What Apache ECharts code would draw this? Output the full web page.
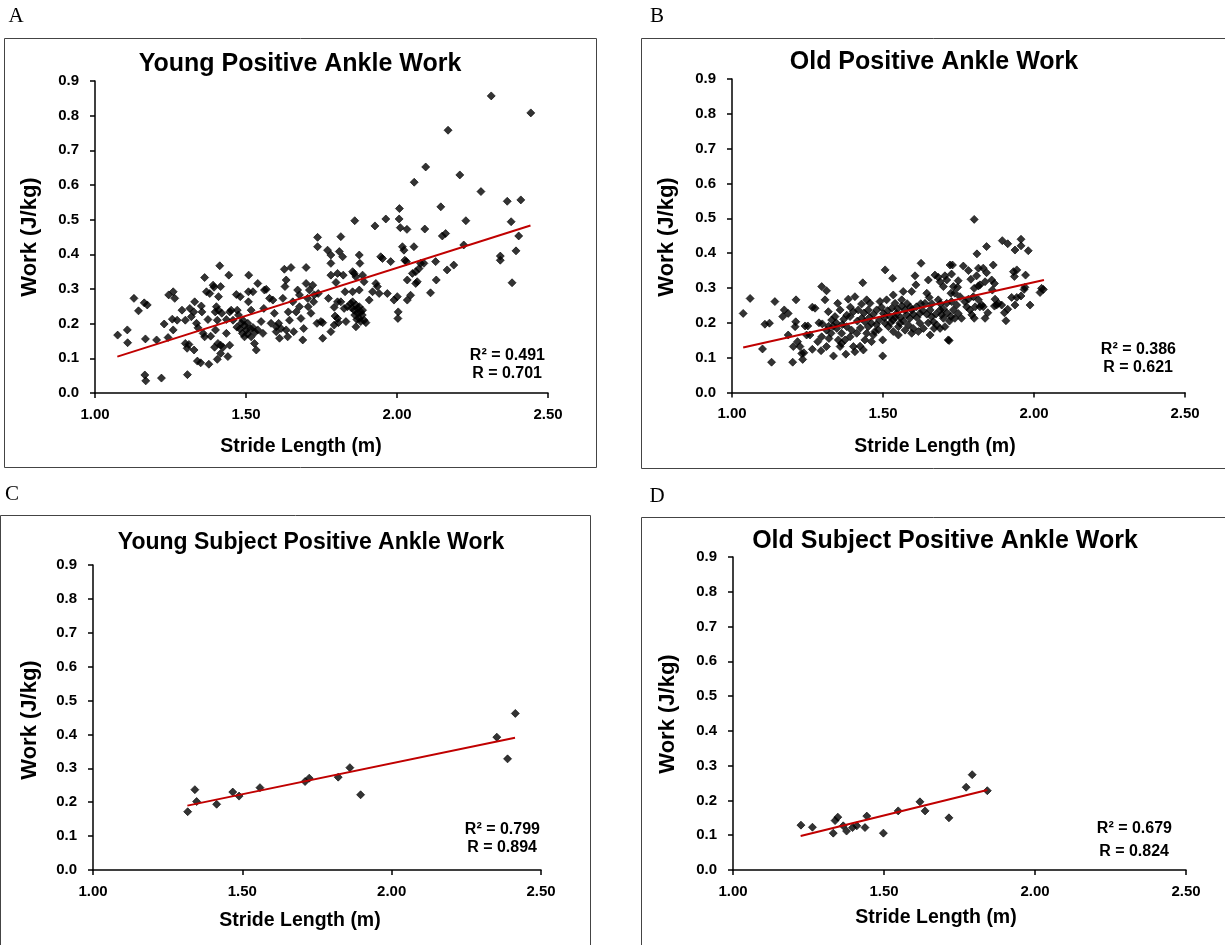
<!DOCTYPE html>
<html>
<head>
<meta charset="utf-8">
<script src="https://cdn.jsdelivr.net/npm/echarts@6/dist/echarts.min.js"></script>
<style>
  html, body { margin: 0; padding: 0; background: #fff; }
  #chart { width: 1225px; height: 945px; }
</style>
</head>
<body>
<div id="chart"></div>
<script>
// Stride length (m) vs positive ankle work (J/kg)
const youngAll = [
  [1.075,0.167],[1.107,0.182],[1.108,0.145],[1.129,0.273],[1.144,0.237],[1.163,0.260],[1.173,0.254],[1.167,0.156],[1.165,0.052],[1.168,0.035],
  [1.204,0.153],[1.220,0.043],[1.229,0.199],[1.242,0.160],[1.244,0.283],[1.259,0.292],[1.264,0.273],[1.256,0.213],[1.259,0.182],[1.272,0.210],
  [1.288,0.239],[1.299,0.210],[1.306,0.053],[1.299,0.143],[1.305,0.129],[1.311,0.140],[1.314,0.244],[1.319,0.220],[1.327,0.234],[1.330,0.263],
  [1.328,0.124],[1.336,0.201],[1.341,0.188],[1.352,0.251],[1.354,0.234],[1.363,0.333],[1.369,0.292],[1.374,0.212],[1.380,0.287],[1.339,0.092],
  [1.350,0.087],[1.377,0.083],[1.358,0.172],[1.363,0.162],[1.383,0.164],[1.391,0.311],[1.394,0.305],[1.398,0.234],[1.399,0.182],[1.405,0.210],
  [1.409,0.278],[1.413,0.367],[1.416,0.307],[1.402,0.249],[1.409,0.239],[1.396,0.132],[1.407,0.143],[1.416,0.138],[1.424,0.132],[1.405,0.097],
  [1.416,0.114],[1.420,0.230],[1.435,0.212],[1.435,0.172],[1.440,0.105],[1.443,0.340],[1.446,0.138],[1.446,0.234],[1.451,0.239],[1.457,0.210],
  [1.468,0.284],[1.471,0.239],[1.475,0.225],[1.481,0.278],[1.484,0.201],[1.488,0.172],[1.495,0.162],[1.501,0.182],[1.506,0.201],[1.508,0.263],
  [1.509,0.340],[1.508,0.292],[1.517,0.162],[1.517,0.239],[1.523,0.292],[1.523,0.189],[1.528,0.143],[1.534,0.124],[1.539,0.316],[1.539,0.182],
  [1.550,0.206],[1.556,0.172],[1.561,0.297],[1.567,0.299],[1.559,0.244],[1.578,0.273],[1.583,0.201],[1.589,0.268],[1.594,0.230],[1.600,0.191],
  [1.600,0.177],[1.608,0.201],[1.611,0.158],[1.616,0.186],[1.622,0.273],[1.627,0.357],[1.629,0.307],[1.633,0.326],[1.633,0.182],[1.638,0.162],
  [1.640,0.234],[1.644,0.210],[1.649,0.362],[1.655,0.263],[1.658,0.177],[1.666,0.234],[1.671,0.297],[1.677,0.283],[1.677,0.249],[1.682,0.215],
  [1.688,0.153],[1.691,0.186],[1.699,0.362],[1.699,0.316],[1.704,0.273],[1.706,0.249],[1.710,0.297],[1.715,0.230],[1.721,0.311],[1.724,0.263],
  [1.726,0.283],[1.735,0.201],[1.737,0.449],[1.737,0.422],[1.739,0.287],[1.748,0.206],[1.754,0.158],
  [1.495,0.195],[1.505,0.170],[1.515,0.185],[1.490,0.210],[1.480,0.185],[1.530,0.175],[1.470,0.190],
  [1.814,0.451],[1.770,0.412],[1.781,0.398],[1.781,0.374],[1.809,0.408],[1.820,0.393],[1.781,0.340],[1.803,0.345],[1.822,0.340],[1.798,0.319],
  [1.773,0.273],[1.754,0.203],[1.781,0.177],[1.803,0.263],[1.792,0.247],[1.814,0.263],[1.795,0.222],[1.803,0.215],[1.792,0.196],[1.806,0.203],
  [1.825,0.244],[1.831,0.206],[1.828,0.292],[1.853,0.350],[1.858,0.345],[1.864,0.335],[1.853,0.292],[1.875,0.297],[1.886,0.340],[1.891,0.321],
  [1.836,0.249],[1.847,0.258],[1.853,0.263],[1.858,0.239],[1.864,0.254],[1.869,0.244],[1.875,0.249],[1.880,0.234],[1.886,0.239],[1.875,0.215],
  [1.880,0.206],[1.891,0.210],[1.897,0.203],[1.864,0.191],[1.875,0.398],[1.877,0.374],[1.908,0.268],[1.919,0.292],[1.930,0.316],[1.935,0.307],
  [1.860,0.225],[1.870,0.230],[1.850,0.245],[1.885,0.225],[1.867,0.212],
  [1.941,0.287],[1.946,0.393],[1.952,0.388],[1.968,0.287],[1.979,0.379],[1.990,0.268],[2.001,0.278],[2.004,0.234],[2.003,0.215],[2.018,0.422],
  [2.023,0.412],[2.026,0.383],[2.031,0.379],[2.034,0.326],[2.034,0.268],[2.045,0.282],[2.051,0.345],[2.056,0.422],[2.062,0.350],[2.067,0.321],
  [2.073,0.359],[2.078,0.374],[2.062,0.316],[2.089,0.374],[2.111,0.289],[2.128,0.379],[2.130,0.326],[2.150,0.453],[2.161,0.460],[2.166,0.355],
  [2.188,0.369],[2.221,0.427],[2.342,0.395],[2.342,0.383],[2.381,0.318],[2.394,0.410],[2.403,0.453],
  [1.860,0.497],[1.927,0.482],[1.963,0.502],[2.007,0.502],[2.008,0.532],[2.011,0.477],[2.033,0.472],[2.057,0.608],[2.092,0.473],[2.095,0.652],
  [2.145,0.537],[2.169,0.758],[2.208,0.629],[2.228,0.497],[2.278,0.581],[2.312,0.857],[2.365,0.553],[2.378,0.494],[2.410,0.557],[2.443,0.808]
];

const oldAll = [
  [1.037,0.227],[1.060,0.270],[1.101,0.125],[1.109,0.196],[1.124,0.199],[1.131,0.087],[1.142,0.261],[1.168,0.218],[1.173,0.237],[1.186,0.227],
  [1.186,0.165],[1.201,0.087],[1.209,0.189],[1.211,0.203],[1.212,0.266],[1.203,0.132],[1.217,0.146],[1.225,0.132],[1.231,0.112],[1.238,0.114],
  [1.234,0.095],[1.242,0.191],[1.251,0.191],[1.247,0.165],[1.258,0.165],[1.266,0.245],[1.275,0.242],[1.266,0.124],[1.284,0.146],[1.295,0.120],
  [1.288,0.200],[1.299,0.197],[1.297,0.304],[1.313,0.292],[1.308,0.266],[1.297,0.160],[1.313,0.132],[1.313,0.179],[1.319,0.232],[1.321,0.155],
  [1.328,0.170],[1.330,0.208],[1.336,0.105],[1.341,0.218],[1.350,0.256],[1.347,0.184],[1.352,0.151],[1.358,0.237],[1.363,0.170],[1.363,0.141],
  [1.358,0.132],
  [1.385,0.268],[1.407,0.275],[1.380,0.222],[1.391,0.218],[1.402,0.232],[1.418,0.237],[1.380,0.189],[1.396,0.179],[1.413,0.170],[1.391,0.160],
  [1.374,0.151],[1.402,0.132],[1.424,0.133],[1.435,0.122],[1.377,0.110],[1.407,0.117],[1.429,0.254],[1.433,0.315],[1.446,0.266],[1.457,0.256],
  [1.451,0.237],[1.429,0.213],[1.440,0.203],[1.451,0.189],[1.462,0.199],[1.446,0.170],[1.468,0.165],[1.440,0.151],[1.462,0.146],[1.473,0.175],
  [1.479,0.237],[1.490,0.261],[1.501,0.227],[1.488,0.208],[1.507,0.199],[1.518,0.189],[1.499,0.151],[1.499,0.105],[1.507,0.352],[1.532,0.328],
  [1.512,0.266],[1.529,0.242],[1.534,0.280],[1.540,0.256],[1.523,0.218],[1.534,0.208],[1.545,0.227],[1.551,0.189],[1.534,0.175],[1.551,0.165],
  [1.556,0.199],[1.562,0.266],[1.573,0.237],[1.578,0.223],[1.567,0.290],[1.562,0.248],[1.573,0.179],[1.584,0.194],[1.589,0.213],[1.595,0.170],
  [1.600,0.184],[1.595,0.290],[1.606,0.335],[1.609,0.309],[1.595,0.237],[1.611,0.246],[1.622,0.227],[1.626,0.371],[1.622,0.199],[1.617,0.175],
  [1.634,0.184],[1.639,0.256],[1.645,0.285],[1.650,0.323],[1.653,0.273],[1.656,0.237],[1.661,0.218],[1.667,0.203],[1.669,0.184],[1.656,0.165],
  [1.678,0.194],[1.672,0.337],[1.683,0.331],[1.689,0.318],[1.705,0.335],[1.700,0.304],[1.711,0.323],[1.689,0.237],[1.694,0.223],[1.700,0.213],
  [1.683,0.266],[1.711,0.256],[1.689,0.184],[1.705,0.189],[1.716,0.151],[1.722,0.366],
  [1.392,0.245],[1.415,0.205],[1.425,0.185],[1.437,0.228],[1.455,0.215],[1.468,0.225],[1.478,0.195],[1.485,0.180],[1.495,0.245],[1.505,0.215],
  [1.515,0.235],[1.525,0.200],[1.540,0.215],[1.548,0.240],[1.558,0.215],[1.568,0.205],[1.580,0.255],[1.590,0.245],[1.600,0.225],[1.612,0.215],
  [1.625,0.255],[1.632,0.235],[1.645,0.225],[1.650,0.200],[1.662,0.255],[1.675,0.225],[1.690,0.255],[1.700,0.240],[1.712,0.228],[1.720,0.205],
  [1.365,0.195],[1.370,0.210],[1.345,0.200],[1.335,0.190],[1.320,0.190],
  [1.802,0.497],[1.843,0.419],[1.811,0.398],[1.895,0.436],[1.913,0.427],[1.937,0.409],[1.957,0.440],[1.957,0.421],[1.981,0.407],
  [1.730,0.366],[1.766,0.363],[1.783,0.350],[1.816,0.357],[1.832,0.357],[1.843,0.344],[1.865,0.366],
  [1.727,0.340],[1.749,0.321],[1.733,0.304],[1.747,0.302],[1.791,0.325],[1.810,0.335],[1.821,0.309],[1.838,0.318],[1.860,0.323],[1.869,0.313],
  [1.862,0.294],[1.932,0.347],[1.943,0.352],[1.935,0.333],[1.972,0.337],
  [1.802,0.299],[1.816,0.306],[1.725,0.285],[1.738,0.285],[1.755,0.275],[1.771,0.261],[1.783,0.268],[1.799,0.275],[1.816,0.266],[1.827,0.251],
  [1.871,0.268],[1.882,0.256],[1.893,0.251],[1.876,0.251],[1.869,0.248],
  [1.926,0.273],[1.943,0.273],[1.957,0.277],[1.970,0.302],[1.967,0.296],
  [2.025,0.299],[2.020,0.287],[2.031,0.296],[1.987,0.251],
  [1.937,0.251],[1.913,0.239],[1.902,0.229],[1.907,0.206],
  [1.727,0.261],[1.744,0.251],[1.733,0.237],[1.749,0.227],[1.738,0.213],[1.760,0.213],[1.725,0.218],
  [1.777,0.246],[1.788,0.237],[1.805,0.246],[1.821,0.246],[1.832,0.246],[1.794,0.223],[1.802,0.213],[1.838,0.213],[1.847,0.229],
  [1.719,0.149]
];

const youngSubject = [
  [1.317,0.172],[1.341,0.237],[1.347,0.202],[1.414,0.194],[1.468,0.230],[1.489,0.218],[1.559,0.243],[1.710,0.261],
  [1.724,0.271],[1.821,0.274],[1.860,0.302],[1.896,0.222],[2.352,0.392],[2.388,0.328],[2.414,0.462]
];

const oldSubject = [
  [1.225,0.129],[1.263,0.123],[1.332,0.106],[1.338,0.142],[1.347,0.152],[1.365,0.127],[1.376,0.112],[1.396,0.122],
  [1.410,0.127],[1.437,0.122],[1.443,0.155],[1.498,0.106],[1.547,0.170],[1.619,0.196],[1.636,0.170],[1.715,0.150],
  [1.772,0.238],[1.792,0.274],[1.842,0.228]
];

// Linear trend lines: [start, end] in data units
const youngAllTrend = [[1.074,0.105],[2.442,0.483]];
const oldAllTrend = [[1.037,0.129],[2.033,0.323]];
const youngSubjectTrend = [[1.316,0.190],[2.413,0.390]];
const oldSubjectTrend = [[1.224,0.098],[1.842,0.230]];

const panelTitles = ['Young Positive Ankle Work', 'Old Positive Ankle Work',
                     'Young Subject Positive Ankle Work', 'Old Subject Positive Ankle Work'];
const panelLetters = ['A', 'B', 'C', 'D'];
const r2Labels = ['R\u00B2 = 0.491', 'R\u00B2 = 0.386', 'R\u00B2 = 0.799', 'R\u00B2 = 0.679'];
const rLabels = ['R = 0.701', 'R = 0.621', 'R = 0.894', 'R = 0.824'];
const xAxisTitle = 'Stride Length (m)';
const yAxisTitle = 'Work (J/kg)';

const FONT = '"Liberation Sans", Arial, sans-serif';
const SERIF = '"Liberation Serif", "Times New Roman", serif';

// Panel geometry (pixels)
const grids = [
  { left: 95,  top: 81,  width: 453, height: 312 },
  { left: 732, top: 79,  width: 453, height: 313.5 },
  { left: 93,  top: 565, width: 448, height: 305 },
  { left: 733, top: 557, width: 453, height: 313 }
];
const frames = [
  { x: 4.5,   y: 38.5,  w: 592, h: 429 },
  { x: 641.5, y: 38.5,  w: 590, h: 430 },
  { x: 0.5,   y: 515.5, w: 590, h: 440 },
  { x: 641.5, y: 517.5, w: 590, h: 440 }
];
const letterPos = [[16, 16], [657, 16], [12, 494], [657, 496]];
const titlePos = [[300, 64], [934, 62], [311, 543], [945, 541]];
const titleSize = [25, 25, 23, 25];
const yNamePos = [[30, 237], [667, 237], [30, 720], [668, 714]];
const xNamePos = [[301, 447], [935, 447], [300, 921], [936, 918]];
const rPos = [[545, 356, 374], [1176, 350, 368], [540, 830, 848], [1172, 829, 852]];

const dataSets = [youngAll, oldAll, youngSubject, oldSubject];
const trends = [youngAllTrend, oldAllTrend, youngSubjectTrend, oldSubjectTrend];

const axisLineStyle = { color: '#000', width: 1.5 };

const xAxes = grids.map((g, i) => ({
  type: 'value', gridIndex: i, min: 1, max: 2.5, interval: 0.5,
  axisLine: { show: true, onZero: false, lineStyle: axisLineStyle },
  axisTick: { show: true, inside: false, length: 5, lineStyle: axisLineStyle },
  axisLabel: { color: '#000', fontWeight: 'bold', fontSize: 15, fontFamily: FONT, margin: 14,
               formatter: v => v.toFixed(2) },
  splitLine: { show: false }
}));
const yAxes = grids.map((g, i) => ({
  type: 'value', gridIndex: i, min: 0, max: 0.9, interval: 0.1,
  axisLine: { show: true, onZero: false, lineStyle: axisLineStyle },
  axisTick: { show: true, inside: false, length: 5, lineStyle: axisLineStyle },
  axisLabel: { color: '#000', fontWeight: 'bold', fontSize: 15, fontFamily: FONT, margin: 16,
               formatter: v => v.toFixed(1) },
  splitLine: { show: false }
}));

const series = [];
dataSets.forEach((d, i) => {
  series.push({
    type: 'scatter', xAxisIndex: i, yAxisIndex: i, data: d,
    symbol: 'diamond', symbolSize: 8,
    itemStyle: { color: '#000', borderColor: '#000', borderWidth: 0.8 }, z: 2
  });
  series.push({
    type: 'line', xAxisIndex: i, yAxisIndex: i, data: trends[i],
    symbol: 'none', lineStyle: { color: '#C00000', width: 2 }, z: 3
  });
});

const graphics = [];
frames.forEach(f => graphics.push({
  type: 'rect', shape: { x: f.x, y: f.y, width: f.w, height: f.h },
  style: { fill: 'none', stroke: '#444', lineWidth: 1 }, silent: true, z: -1
}));
panelLetters.forEach((t, i) => graphics.push({
  type: 'text', x: letterPos[i][0], y: letterPos[i][1],
  style: { text: t, font: '21px ' + SERIF, fill: '#000', textAlign: 'center', textVerticalAlign: 'middle' }
}));
panelTitles.forEach((t, i) => graphics.push({
  type: 'text', x: titlePos[i][0], y: titlePos[i][1],
  style: { text: t, font: 'bold ' + titleSize[i] + 'px ' + FONT, fill: '#000', textAlign: 'center', textVerticalAlign: 'middle' }
}));
grids.forEach((g, i) => {
  graphics.push({
    type: 'text', x: yNamePos[i][0], y: yNamePos[i][1], rotation: Math.PI / 2,
    style: { text: yAxisTitle, font: 'bold 22px ' + FONT, fill: '#000', textAlign: 'center', textVerticalAlign: 'middle' }
  });
  graphics.push({
    type: 'text', x: xNamePos[i][0], y: xNamePos[i][1],
    style: { text: xAxisTitle, font: 'bold 19.5px ' + FONT, fill: '#000', textAlign: 'center', textVerticalAlign: 'middle' }
  });
  graphics.push({
    type: 'text', x: rPos[i][0], y: rPos[i][1],
    style: { text: r2Labels[i], font: 'bold 16px ' + FONT, fill: '#000', textAlign: 'right', textVerticalAlign: 'middle' }
  });
  graphics.push({
    type: 'text', x: rPos[i][0] - 3, y: rPos[i][2],
    style: { text: rLabels[i], font: 'bold 16px ' + FONT, fill: '#000', textAlign: 'right', textVerticalAlign: 'middle' }
  });
});

const chart = echarts.init(document.getElementById('chart'), null, { renderer: 'canvas' });
chart.setOption({
  backgroundColor: '#fff',
  animation: false,
  grid: grids,
  xAxis: xAxes,
  yAxis: yAxes,
  series: series,
  graphic: graphics
});
</script>
</body>
</html>
